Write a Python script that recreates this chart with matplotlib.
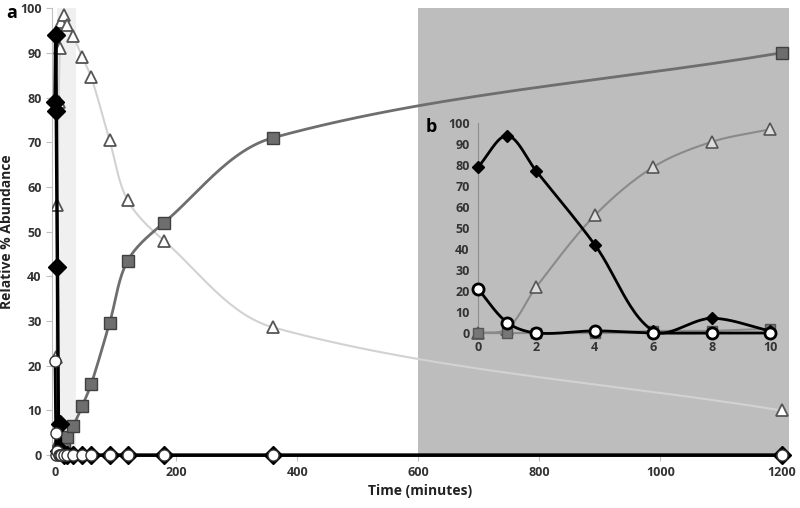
import numpy as np
import matplotlib
matplotlib.use("Agg")
import matplotlib.pyplot as plt

plt.rcParams['font.family'] = ['Open Sans', 'DejaVu Sans']
plt.rcParams['font.weight'] = 'bold'

# time points (minutes)
t_main = [0, 1, 2, 4, 6, 8, 10, 15, 20, 30, 45, 60, 90, 120, 180, 360, 1200]
diamond = [79, 94, 77, 42, 1, 7, 1, 0, 0, 0, 0, 0, 0, 0, 0, 0, 0]
circle = [21, 5, 0, 1, 0, 0, 0, 0, 0, 0, 0, 0, 0, 0, 0, 0, 0]
triangle = [0, 2, 22, 56, 79, 91, 97, 98.5, 96.3, 93.8, 89, 84.5, 70.5, 57, 48, 28.6, 10]
square = [0, 0, 0, 0, 1, 1, 2, 3, 4, 6.5, 11, 16, 29.5, 43.5, 52, 71, 90]

# inset (first 10 minutes)
t_in = [0, 1, 2, 4, 6, 8, 10]
diamond_in = [79, 94, 77, 42, 1, 7, 1]
circle_in = [21, 5, 0, 1, 0, 0, 0]
triangle_in = [0, 2, 22, 56, 79, 91, 97]
square_in = [0, 0, 0, 0, 1, 1, 2]


def smooth(x, y, sx, sy, n=30):
    # smoothed line like Excel's, bezier through the points in pixel-ish space
    P = np.column_stack([np.asarray(x, float) * sx, np.asarray(y, float) * sy])
    out = []
    for i in range(len(P) - 1):
        p0 = P[i - 1] if i > 0 else P[i]
        p1, p2 = P[i], P[i + 1]
        p3 = P[i + 2] if i + 2 < len(P) else P[i + 1]
        l01 = np.linalg.norm(p1 - p0)
        l12 = np.linalg.norm(p2 - p1)
        l23 = np.linalg.norm(p3 - p2)
        c1 = p1 + (p2 - p0) * l12 / (3 * (l01 + l12)) if l01 + l12 > 0 else p1
        c2 = p2 - (p3 - p1) * l12 / (3 * (l12 + l23)) if l12 + l23 > 0 else p2
        s = np.linspace(0, 1, n)[:, None]
        seg = (1 - s)**3 * p1 + 3 * (1 - s)**2 * s * c1 + 3 * (1 - s) * s**2 * c2 + s**3 * p2
        out.append(seg)
    out = np.vstack(out)
    return out[:, 0] / sx, out[:, 1] / sy


fig = plt.figure(figsize=(8, 5.08), dpi=100)
ax = fig.add_axes([0.065, 0.104, 0.921, 0.88])
ax.set_xlim(-5, 1212)
ax.set_ylim(0, 100)

shade = '#bdbdbd'
ax.axvspan(600, 1212, color=shade, zorder=0, lw=0)
ax.axvspan(3, 35, color='#f0f0f0', zorder=0, lw=0)

sx, sy = 0.606, 4.47
xs, ys = smooth(t_main, triangle, sx, sy)
ax.plot(xs, ys, color='#d2d2d2', lw=1.5, zorder=2)
ax.plot(t_main, triangle, ls='none', marker='^', ms=9, mfc='white', mec='#555555', mew=1.3, zorder=3)

xs, ys = smooth(t_main, square, sx, sy)
ax.plot(xs, ys, color='#6e6e6e', lw=2, zorder=4)
ax.plot(t_main, square, ls='none', marker='s', ms=8, mfc='#6e6e6e', mec='#404040', mew=1, zorder=5)

xs, ys = smooth(t_main, diamond, sx, sy)
ax.plot(xs, ys, color='black', lw=2.5, zorder=6, clip_on=False)
ax.plot(t_main, diamond, ls='none', marker='D', ms=9.5, mfc='black', mec='black', zorder=7, clip_on=False)

xs, ys = smooth(t_main, circle, sx, sy)
ax.plot(xs, ys, color='black', lw=2, zorder=8, clip_on=False)
ax.plot(t_main, circle, ls='none', marker='o', ms=8, mfc='white', mec='#333333', mew=1, zorder=9, clip_on=False)

ax.set_xticks([0, 200, 400, 600, 800, 1000, 1200])
ax.set_yticks(range(0, 101, 10))
for sp in ['top', 'right']:
    ax.spines[sp].set_visible(False)
ax.spines['left'].set_color('#c0c0c0')
ax.spines['bottom'].set_color('#c0c0c0')
ax.tick_params(axis='both', colors='#c0c0c0', labelcolor='#333333', labelsize=9, length=4)
ax.set_xlabel('Time (minutes)', fontsize=10, fontweight='bold', color='#222222', labelpad=4)
ax.set_ylabel('Relative % Abundance', fontsize=10, fontweight='bold', color='#222222', labelpad=4)
fig.text(0.008, 0.975, 'a', fontsize=13, fontweight='bold', va='center')

# inset b
ax2 = fig.add_axes([478 / 800, 1 - 333 / 508, 292 / 800, 210 / 508])
ax2.set_xlim(0, 10)
ax2.set_ylim(0, 100)
ax2.patch.set_alpha(0)
isx, isy = 29.2, 2.1
xs, ys = smooth(t_in, triangle_in, isx, isy)
ax2.plot(xs, ys, color='#8a8a8a', lw=1.5, zorder=2, clip_on=False)
ax2.plot(t_in, triangle_in, ls='none', marker='^', ms=9, mfc='#dcdcdc', mec='#555555', mew=1.2, zorder=3, clip_on=False)
ax2.plot(t_in, square_in, color='#8a8a8a', lw=1.5, zorder=4, clip_on=False)
ax2.plot(t_in, square_in, ls='none', marker='s', ms=7, mfc='#777777', mec='#555555', mew=1, zorder=5, clip_on=False)
xs, ys = smooth(t_in, diamond_in, isx, isy)
ax2.plot(xs, ys, color='black', lw=2, zorder=6, clip_on=False)
ax2.plot(t_in, diamond_in, ls='none', marker='D', ms=6, mfc='black', mec='black', zorder=7, clip_on=False)
xs, ys = smooth(t_in, circle_in, isx, isy)
ax2.plot(xs, ys, color='black', lw=2, zorder=8, clip_on=False)
ax2.plot(t_in, circle_in, ls='none', marker='o', ms=8, mfc='white', mec='black', mew=2, zorder=9, clip_on=False)
ax2.set_xticks([0, 2, 4, 6, 8, 10])
ax2.set_yticks(range(0, 101, 10))
for sp in ['top', 'right']:
    ax2.spines[sp].set_visible(False)
ax2.spines['left'].set_color('#8c8c8c')
ax2.spines['bottom'].set_color('#8c8c8c')
ax2.tick_params(axis='both', colors='#8c8c8c', labelcolor='#333333', labelsize=9, length=0, pad=6)
fig.text(426 / 800, 1 - 127 / 508, 'b', fontsize=13, fontweight='bold', va='center')

fig.savefig('out.png', dpi=100)
